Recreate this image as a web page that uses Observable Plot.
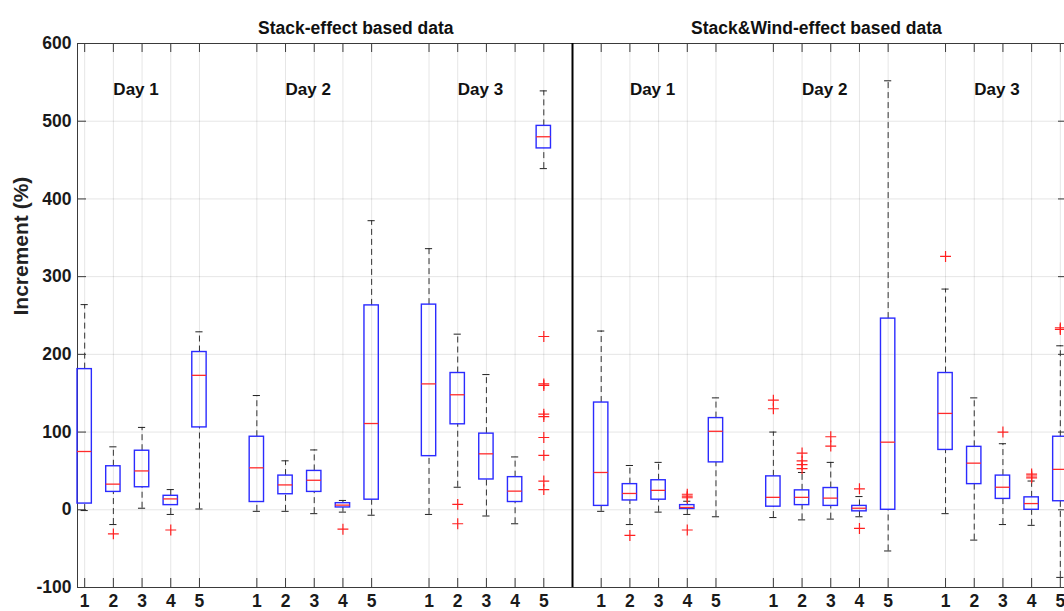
<!DOCTYPE html>
<html><head><meta charset="utf-8">
<script src="https://cdn.jsdelivr.net/npm/d3@7"></script>
<script src="https://cdn.jsdelivr.net/npm/@observablehq/plot@0.6"></script>
<style>
html,body{margin:0;padding:0;overflow:hidden;background:#fff;}
svg{display:block;max-width:none !important;}
</style></head><body><div id="chart"></div>
<script>
// ---- data ----
const panelTitles = ["Stack-effect based data", "Stack&Wind-effect based data"];
const titleCenters = [10.45, 26.5];
const dayLabels = ["Day 1", "Day 2", "Day 3", "Day 1", "Day 2", "Day 3"];
const boxNames = ["1", "2", "3", "4", "5"];
const yTicks = [-100, 0, 100, 200, 300, 400, 500, 600];

// 6 groups (3 days x 2 panels) x 5 boxes
const whiskerLow = [
  -1, -19, 2, -6, 1,
  -2, -2, -5, -3, -7,
  -6, 29, -8, -18, 439,
  -2, -19, -3, -6, -9,
  -10, -13, -12, -9, -53,
  -5, -39, -19, -20, -87
];
const q1 = [
  8, 23, 29, 6, 106,
  10, 20, 23, 3, 13,
  69, 110, 39, 10, 465,
  5, 12, 13, 1, 61,
  4, 6, 5, -2, 0,
  77, 33, 14, 0, 11
];
const median = [
  75, 33, 50, 14, 173,
  54, 32, 38, 6, 111,
  162, 148, 72, 24, 480,
  48, 21, 25, 3, 101,
  16, 16, 15, 2, 87,
  124, 60, 29, 8, 52
];
const q3 = [
  181, 56, 76, 18, 203,
  94, 44, 50, 8.5, 263,
  264, 176, 98, 42, 494,
  138, 33, 38, 6, 118,
  43, 25, 28, 5, 246,
  176, 81, 44, 16, 94
];
const whiskerHigh = [
  264, 81, 106, 26, 229,
  147, 63, 77, 12, 372,
  336, 226, 174, 68, 539,
  230, 57, 61, 11, 144,
  100, 48, 61, 17, 552,
  284, 144, 85, 37, 211
];
// outliers: flat box index (0..29) and value
const outlierBox = [1, 3, 8, 11, 11, 14, 14, 14, 14, 14, 14, 14, 14, 14,
  16, 18, 18, 18, 18, 20, 20, 21, 21, 21, 21, 22, 22, 23, 23,
  25, 27, 28, 28, 28, 29, 29];
const outlierValue = [-31, -26, -25, 7, -18, 223, 162, 160, 123, 120, 93, 70, 37, 26,
  -33, 20, 17.5, 15.5, -26, 141, 130, 73, 63, 58, 53, 94, 82, 27, -24,
  326, 100, 46, 43.5, 41, 232, 234];

// ---- build table ----
const perGroup = boxNames.length;
const posOf = k => Math.floor(k / perGroup) * (perGroup + 1) + (k % perGroup) + 1;
const rows = whiskerLow.map((lo, k) => ({
  pos: posOf(k), lo, q1: q1[k], med: median[k], q3: q3[k], hi: whiskerHigh[k]
}));
const positions = rows.map(d => d.pos);
const outs = outlierBox.map((b, i) => ({pos: posOf(b), v: outlierValue[i]}));
const divider = 3 * (perGroup + 1);
const halfBox = 0.25, halfCap = 0.125;

const W = 1070, H = 611, mL = 77, mR = 3, mT = 43, mB = 24;
const frameW = W - mL - mR, frameH = H - mT - mB, tickLen = 9;
const axisColor = "#3a3a3a";

const chart = Plot.plot({
  width: W, height: H,
  marginLeft: mL, marginRight: mR, marginTop: mT, marginBottom: mB,
  style: {fontFamily: "'Liberation Sans', Arial, sans-serif", fontSize: "17.5px", fontWeight: "bold", color: "#1a1a1a", background: "#fff", maxWidth: "none"},
  x: {domain: [0.75, 35.25]},
  y: {domain: [-100, 600]},
  marks: [
    Plot.gridX(positions, {stroke: "#000", strokeOpacity: 0.1}),
    Plot.gridY(yTicks, {stroke: "#000", strokeOpacity: 0.1}),
    // inward tick marks
    Plot.ruleX(positions, {x: d => d, stroke: axisColor, insetTop: frameH - tickLen}),
    Plot.ruleX(positions, {x: d => d, stroke: axisColor, insetBottom: frameH - tickLen}),
    Plot.ruleY(yTicks, {y: d => d, stroke: axisColor, insetRight: frameW - tickLen}),
    Plot.ruleY(yTicks, {y: d => d, stroke: axisColor, insetLeft: frameW - tickLen}),
    Plot.frame({stroke: axisColor}),
    Plot.axisY(yTicks, {tickSize: 0, tickPadding: 6, label: null, tickFormat: d => String(d)}),
    Plot.axisX(positions, {tickSize: 0, tickPadding: 7, label: null,
      tickFormat: p => boxNames[(p - 1) % (perGroup + 1)]}),
    // whiskers
    Plot.ruleX(rows, {x: "pos", y1: "q3", y2: "hi", stroke: "#333", strokeDasharray: "6,4"}),
    Plot.ruleX(rows, {x: "pos", y1: "lo", y2: "q1", stroke: "#333", strokeDasharray: "6,4"}),
    Plot.ruleY(rows, {y: "hi", x1: d => d.pos - halfCap, x2: d => d.pos + halfCap, stroke: "#222"}),
    Plot.ruleY(rows, {y: "lo", x1: d => d.pos - halfCap, x2: d => d.pos + halfCap, stroke: "#222"}),
    // boxes
    Plot.rect(rows, {x1: d => d.pos - halfBox, x2: d => d.pos + halfBox, y1: "q1", y2: "q3",
      fill: "none", stroke: "#2b2bff", strokeWidth: 1.4}),
    Plot.ruleY(rows, {y: "med", x1: d => d.pos - halfBox, x2: d => d.pos + halfBox, stroke: "#ff2b2b", strokeWidth: 1.3}),
    // outliers
    Plot.dot(outs, {x: "pos", y: "v", symbol: "plus", stroke: "#ff2020", r: 3.6, strokeWidth: 1.2}),
    // panel divider
    Plot.ruleX([divider], {stroke: "#000", strokeWidth: 2}),
    // texts
    Plot.text(panelTitles, {x: (d, i) => titleCenters[i], text: d => d, frameAnchor: "top", dy: -22, fontSize: 17.5, fill: "#111"}),
    Plot.text(dayLabels, {x: (d, i) => i * (perGroup + 1) + 2, text: d => d, frameAnchor: "top", dy: 39, textAnchor: "start", fontSize: 17, fill: "#111"}),
    Plot.text(["Increment (%)"], {text: d => d, frameAnchor: "left", dx: -56, rotate: -90, fontSize: 21, fill: "#222"})
  ]
});
chart.style.maxWidth = "none";
document.getElementById("chart").appendChild(chart);
</script>
</body></html>
